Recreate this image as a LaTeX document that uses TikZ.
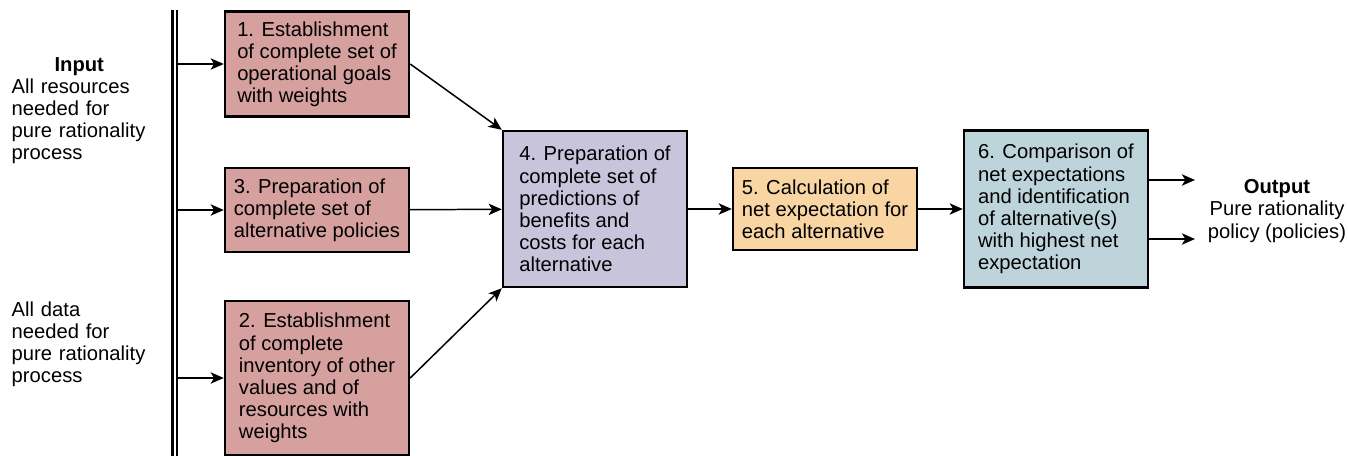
\documentclass[tikz,border=0pt]{standalone}
\usepackage{fontspec}
\setmainfont{Liberation Sans}
\usetikzlibrary{arrows.meta}
\definecolor{goalpink}{RGB}{213,160,158}
\definecolor{predlilac}{RGB}{200,196,220}
\definecolor{calcpeach}{RGB}{248,213,163}
\definecolor{compblue}{RGB}{190,212,219}
\begin{document}
\begin{tikzpicture}[x=0.02cm, y=-0.02cm, ->, line width=0.85pt,
  >={Stealth[length=7.5pt,width=6.5pt,inset=2pt]},
  font=\fontsize{11.5}{12.6}\selectfont,
  stage/.style={draw, line width=1.4pt, rectangle, align=left, inner sep=0pt, minimum width=3.68cm},
  sidetext/.style={align=left, inner sep=0pt, text width=2.7cm}]
  \useasboundingbox (0,0) rectangle (1348,456);

  % input side
  \node [sidetext, anchor=west] (inres) at (11,110.5) {{\centering\bfseries Input\par}All resources\\needed for\\pure rationality\\process};
  \node [sidetext, anchor=west] (indata) at (11,344.5) {All data\\needed for\\pure rationality\\process};
  \draw [-, line width=1.2pt] (172.5,10) -- (172.5,456) (177,10) -- (177,456);

  \coordinate (b1) at (178,64);
  \coordinate (b3) at (178,210);
  \coordinate (b2) at (178,378);

  % stages
  \node [stage, fill=goalpink, minimum height=2.1cm]   (g1) at (317,64)  {1. Establishment\\of complete set of\\operational goals\\with weights};
  \path  (b1) edge (g1);
  \node [stage, fill=goalpink, minimum height=1.68cm]  (g3) at (317,210) {3. Preparation of\\complete set of\\alternative policies};
  \path  (b3) edge (g3);
  \node [stage, fill=goalpink, minimum height=3.08cm]  (g2) at (317,378) {2. Establishment\\of complete\\inventory of other\\values and of\\resources with\\weights};
  \path  (b2) edge (g2);

  \node [stage, fill=predlilac, minimum height=3.12cm] (p4) at (595,209) {4. Preparation of\\complete set of\\predictions of\\benefits and\\costs for each\\alternative};
  \path  (g1.east) edge (p4.north west);
  \path  (g3) edge (p4);
  \path  (g2.east) edge (p4.south west);

  \node [stage, fill=calcpeach, minimum height=1.64cm] (c5) at (825,209) {5. Calculation of\\net expectation for\\each alternative};
  \path  (p4) edge (c5);

  \node [stage, fill=compblue, minimum height=3.14cm]  (s6) at (1056,209) {6. Comparison of\\net expectations\\and identification\\of alternative(s)\\with highest net\\expectation};
  \path  (c5) edge (s6);

  % output side
  \coordinate (o1) at (1195,180);
  \coordinate (o2) at (1195,239);
  \path  (s6.east |- o1) edge (o1);
  \path  (s6.east |- o2) edge (o2);
  \node [align=center, inner sep=0pt] (outpol) at (1277,211) {\bfseries Output\\Pure rationality\\policy (policies)};
\end{tikzpicture}
\end{document}
